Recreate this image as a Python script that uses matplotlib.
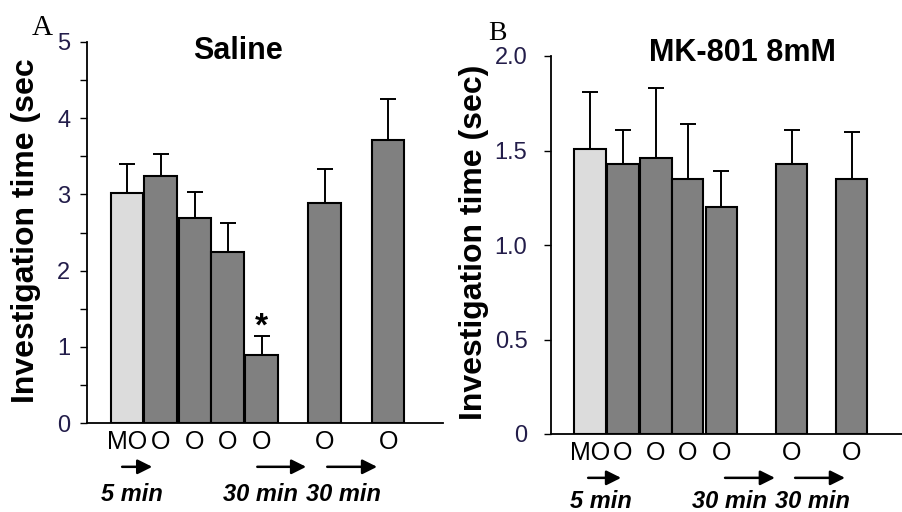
import matplotlib
matplotlib.use("Agg")
import matplotlib.pyplot as plt
import matplotlib.transforms as mtransforms
import numpy as np

plt.rcParams['font.family'] = ['Liberation Sans', 'DejaVu Sans']

# data
bar_labels = ['MO', 'O', 'O', 'O', 'O', 'O', 'O']
bar_colors = ['#dcdcdc'] + ['#808080'] * 6

saline_pos = [0, 1, 2.03, 3, 4.02, 5.9, 7.8]
saline_mean = [3.02, 3.24, 2.69, 2.24, 0.89, 2.89, 3.71]
saline_err = [0.38, 0.29, 0.34, 0.38, 0.25, 0.44, 0.54]

mk_pos = [0, 1, 2.02, 2.99, 4.03, 6.18, 8.02]
mk_mean = [1.51, 1.43, 1.46, 1.35, 1.20, 1.43, 1.35]
mk_err = [0.30, 0.18, 0.37, 0.29, 0.19, 0.18, 0.25]

interval_labels = ['5 min', '30 min', '30 min']

tick_col = '#231d4a'


def draw_panel(ax, pos, mean, err, xlim, ylim, yticks, yticklabels, ypad,
               arrows, texts, arrow_y, text_y):
    ax.bar(pos, mean, width=0.97, color=bar_colors, edgecolor='black',
           linewidth=1.5, zorder=2)
    eb = ax.errorbar(pos, mean, yerr=[np.zeros(len(err)), err], fmt='none',
                     ecolor='black', elinewidth=1.4, capsize=5.5,
                     capthick=1.4, zorder=1)
    eb[1][0].set_visible(False)
    ax.set_xlim(*xlim)
    ax.set_ylim(*ylim)
    ax.set_yticks(yticks)
    ax.set_yticklabels(yticklabels)
    ax.set_xticks(pos)
    ax.set_xticklabels(bar_labels)
    for s in ['top', 'right']:
        ax.spines[s].set_visible(False)
    for s in ['left', 'bottom']:
        ax.spines[s].set_linewidth(1.3)
    ax.tick_params(axis='y', direction='out', length=5, width=1,
                   labelsize=17, pad=ypad, labelcolor=tick_col)
    ax.tick_params(axis='x', length=0, labelsize=18, pad=5)

    # arrows and interval text under the axis
    trans = mtransforms.blended_transform_factory(ax.transData, ax.transAxes)
    for (x0, x1) in arrows:
        ax.annotate('', xy=(x1, arrow_y), xytext=(x0, arrow_y),
                    xycoords=trans, textcoords=trans,
                    arrowprops=dict(arrowstyle='-|>', color='black', lw=1.8,
                                    mutation_scale=22, shrinkA=0, shrinkB=0))
    for x, t in zip(texts, interval_labels):
        ax.text(x, text_y, t, transform=trans, ha='center', va='baseline',
                fontsize=17, fontweight='bold', style='italic')


fig = plt.figure(figsize=(9.03, 5.12), dpi=100)

# panel A - saline
axA = fig.add_axes([87 / 903, 89 / 512, 356 / 903, 381 / 512])
draw_panel(axA, saline_pos, saline_mean, saline_err, (-1.2, 9.44), (0, 5),
           np.arange(0, 5.01, 0.5),
           ['0', '', '1', '', '2', '', '3', '', '4', '', '5'], 7,
           [(-0.15, 0.75), (3.89, 5.35), (5.98, 7.47)],
           [0.15, 3.97, 6.46], -0.115, -0.205)
axA.text(0.424, 0.976, 'Saline', transform=axA.transAxes, ha='center',
         va='center', fontsize=22, fontweight='bold')
axA.text(-0.171, 0.504, 'Investigation time (sec', transform=axA.transAxes,
         rotation=90, ha='center', va='center', fontsize=23,
         fontweight='bold')
axA.text(saline_pos[4], 1.15, '*', ha='center', va='baseline', fontsize=24,
         fontweight='bold')

# panel B - MK-801
axB = fig.add_axes([551 / 903, 78 / 512, 352 / 903, 378 / 512])
draw_panel(axB, mk_pos, mk_mean, mk_err, (-1.2, 9.6), (0, 2),
           [0, 0.5, 1.0, 1.5, 2.0], ['0', '0.5', '1.0', '1.5', '2.0'], 12,
           [(-0.06, 0.95), (4.14, 5.67), (6.29, 7.82)],
           [0.34, 4.26, 6.81], -0.116, -0.196)
axB.text(0.545, 1.008, 'MK-801 8mM', transform=axB.transAxes, ha='center',
         va='center', fontsize=22, fontweight='bold')
axB.text(-0.22, 0.508, 'Investigation time (sec)', transform=axB.transAxes,
         rotation=90, ha='center', va='center', fontsize=23,
         fontweight='bold')

# panel letters
fig.text(32 / 903, 1 - 35 / 512, 'A', fontsize=21, family='Liberation Serif',
         va='baseline')
fig.text(488 / 903, 1 - 40 / 512, 'B', fontsize=20, family='Liberation Serif',
         va='baseline')

fig.savefig('out.png', dpi=100)
